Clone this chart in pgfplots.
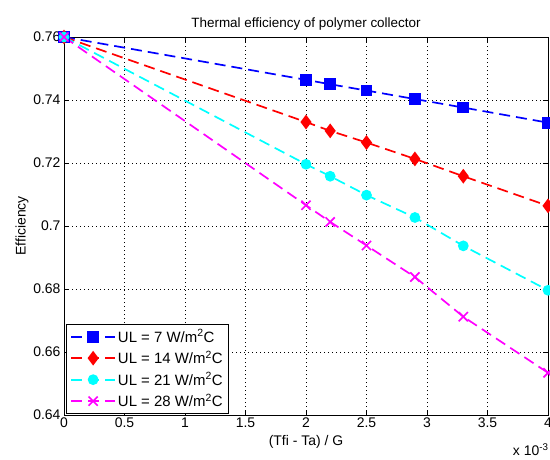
\documentclass[border=0pt]{standalone}
\usepackage{fontspec}
\setmainfont{Liberation Sans}
\usepackage{pgfplots}
\pgfplotsset{compat=1.18}
\definecolor{mblue}{rgb}{0,0,1}
\definecolor{mred}{rgb}{1,0,0}
\definecolor{mcyan}{rgb}{0,1,1}
\definecolor{mmag}{rgb}{1,0,1}
\begin{document}
\begin{tikzpicture}
\begin{axis}[
  scale only axis,
  width=484bp, height=378bp,
  xmin=0, xmax=4, ymin=0.64, ymax=0.76,
  xtick={0,0.5,...,4}, xticklabels={0,0.5,1,1.5,2,2.5,3,3.5,4},
  ytick={0.64,0.66,...,0.76},
  yticklabels={0.64,0.66,0.68,0.7,0.72,0.74,0.76},
  tick align=inside, tick pos=both,
  major tick length=5bp,
  grid=major, grid style={black, dash pattern=on 1bp off 3bp, line width=0.7pt},
  axis line style={black, line width=0.7pt},
  tick style={black, line width=0.7pt},
  ticklabel style={font=\fontsize{14}{16}\selectfont},
  xticklabel style={yshift=1bp},
  /pgf/number format/assume math mode=true,
  title={Thermal efficiency of polymer collector},
  title style={font=\fontsize{13.5}{15}\selectfont, yshift=-3bp},
  xlabel={(Tfi - Ta) / G}, ylabel={Efficiency},
  label style={font=\fontsize{14}{16}\selectfont},
  xlabel style={yshift=-1bp}, ylabel style={yshift=-2bp},
  legend style={font=\fontsize{15}{17}\selectfont, draw=black, line width=0.7pt,
    at={(rel axis cs:0.004,0.004)}, anchor=south west, row sep=3.5bp,
    inner xsep=4bp, inner ysep=3bp},
  legend cell align=left,
  legend image code/.code={
    \draw[mark=none] (0bp,0bp) -- (44bp,0bp);
    \draw plot[only marks] coordinates {(22bp,0bp)};},
  every axis plot/.append style={line width=1.7pt, dash pattern=on 11bp off 6bp},
]
\addplot[mblue, mark=square*, mark size=5bp, mark options={solid}] coordinates {
  (0,0.760) (2,0.7464) (2.2,0.7450) (2.5,0.7430) (2.9,0.7403) (3.3,0.7376) (4,0.7328)};
\addlegendentry{UL = 7 W/m\textsuperscript{2}C}
\addplot[mred, mark=diamond*, mark size=6bp, mark options={solid}] coordinates {
  (0,0.760) (2,0.7330) (2.2,0.7302) (2.5,0.7265) (2.9,0.7213) (3.3,0.7158) (4,0.7064)};
\addlegendentry{UL = 14 W/m\textsuperscript{2}C}
\addplot[mcyan, mark=*, mark size=4.5bp, mark options={solid}] coordinates {
  (0,0.760) (2,0.7196) (2.2,0.7158) (2.5,0.7098) (2.9,0.7027) (3.3,0.6937) (4,0.6796)};
\addlegendentry{UL = 21 W/m\textsuperscript{2}C}
\addplot[mmag, mark=x, mark size=6.5bp, mark options={solid}] coordinates {
  (0,0.760) (2,0.7066) (2.2,0.7013) (2.5,0.6938) (2.9,0.6838) (3.3,0.6712) (4,0.6534)};
\addlegendentry{UL = 28 W/m\textsuperscript{2}C}
\end{axis}
\node[anchor=north east, font=\fontsize{14}{16}\selectfont] at ([shift={(4bp,-25bp)}]current axis.south east) {x 10\textsuperscript{-3}};
\pgfresetboundingbox
\path ([shift={(-64bp,-44bp)}]current axis.south west) rectangle ([shift={(2bp,37bp)}]current axis.north east);
\end{tikzpicture}
\end{document}
